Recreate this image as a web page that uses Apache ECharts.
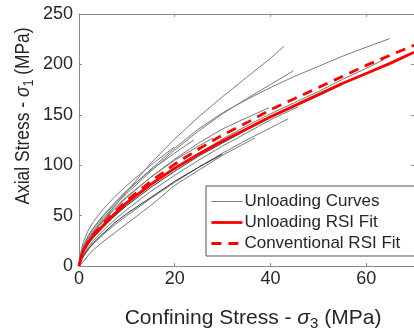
<!DOCTYPE html>
<html>
<head>
<meta charset="utf-8">
<script src="https://cdn.jsdelivr.net/npm/echarts@6/dist/echarts.min.js"></script>
<style>
html,body{margin:0;padding:0;background:#fff;}
#chart{width:414px;height:331px;}
</style>
</head>
<body>
<div id="chart"></div>
<script>
// ---- data (σ3, σ1) in MPa ----
const xTicks = [0, 20, 40, 60];
const yTicks = [0, 50, 100, 150, 200, 250];
const xMax = 70;

const unloadCurve01 = [[0,0],[0.5,10],[1,16],[2,25],[3,32],[5,45],[7.5,60],[10,74],[15,102],[20,126],[25,148],[30,168],[35,187],[40,206],[42.8,218]];
const unloadCurve02 = [[0,0],[0.5,17],[1,25],[2,36],[3,44],[5,56],[7.5,69],[10,80],[15,100],[19.9,118]];
const unloadCurve03 = [[0,0],[0.5,13],[1,20],[2,30],[3,37],[5,49],[7.5,62],[10,74],[15,96],[20,117],[25,136],[30,152],[35,165],[40,177],[45,188],[50,198],[55,208],[60,217],[64.9,225.5]];
const unloadCurve04 = [[0,0],[0.5,12],[1,19],[2,28],[3,35],[5,47],[7.5,60],[10,72],[15,94],[20,115],[25,134],[30,151],[35,166],[40,180],[44.8,193.7]];
const unloadCurve05 = [[0,0],[0.5,9],[1,14],[2,22],[3,28],[5,38],[7.5,50],[10,61],[15,80],[20,97],[25,112],[30,126],[35,139],[40,151],[45,162],[50,173],[55,185],[60,196],[63.8,205]];
const unloadCurve06 = [[0,0],[0.5,11],[1,17],[2,26],[3,33],[5,44],[7.5,57],[10,68],[15,88],[20,106],[25,122],[30,136],[35,147],[39.7,157]];
const unloadCurve07 = [[0,0],[0.5,8],[1,12],[2,19],[3,25],[5,35],[7.5,46],[10,56],[15,74],[20,90],[25,105],[30,119],[35,132],[40,145],[45.8,158]];
const unloadCurve08 = [[0,0],[0.5,10],[1,15],[2,23],[3,29],[5,39],[7.5,50],[10,60],[15,78],[20,94],[25,109],[30,122],[35,135],[40,147],[45,158],[50,169],[55,180]];
const unloadCurve09 = [[0,0],[1,5],[2,11],[3,16],[5,24],[7.5,33],[10,42],[15,60],[20,80],[25,95],[30,110],[36.8,127]];
const unloadCurve10 = [[0,0],[0.5,7],[1,11],[2,17],[3,22],[5,31],[7.5,41],[10,50],[15,67],[20,83],[25,98],[30,112],[35,125],[40,137],[43.7,146]];
const unloadCurve11 = [[0,0],[0.5,6],[1,10],[2,17],[3,23],[5,32],[7.5,43],[10,52],[15,68],[20,84],[25,98],[30,111]];
const unloadCurve12 = [[0,0],[0.5,14],[1,21],[2,31],[3,38],[5,50],[7.5,63],[10,75],[15,95],[20,112],[24,125]];
const unloadCurve13 = [[0,0],[0.5,12],[1,18],[2,27],[3,34],[5,45],[7.5,58],[10,69],[15,88],[20,105],[25,119],[28,127]];

const grayCurves = [unloadCurve01, unloadCurve02, unloadCurve03, unloadCurve04, unloadCurve05, unloadCurve06, unloadCurve07,
                    unloadCurve09, unloadCurve10, unloadCurve12, unloadCurve13];
const darkCurves = [unloadCurve08, unloadCurve11];

const fitSigma3 = [0,0.5,1,2,3,5,7.5,10,15,20,25,30,35,40,45,50,55,60,65,70];
const unloadingFitSigma1 = [0,10,16,24,30,40,52,63,81,97,111,124,136,148,159,170,181,191,201,212];
const conventionalFitSigma1 = [0,10,16,25,31,42,54,65,84,101,116,130,142,155,166,177,188,199,209,219];

const legendNames = ['Unloading Curves', 'Unloading RSI Fit', 'Conventional RSI Fit'];

// ---- chart ----
const FONT = '"Liberation Sans", Arial, Helvetica, sans-serif';
const AX = '#8a8a8a';
const TXT = '#262626';
const HIDDEN_SYMBOL = {color: 'rgba(0,0,0,0)', borderColor: 'rgba(0,0,0,0)', borderWidth: 0};
const chart = echarts.init(document.getElementById('chart'), null, {renderer: 'canvas'});

const series = [];
grayCurves.forEach(c => series.push({
  name: legendNames[0], type: 'line', data: c, showSymbol: false, symbol: 'circle',
  lineStyle: {color: '#7a7a7a', width: 1}, itemStyle: HIDDEN_SYMBOL, z: 2, silent: true
}));
darkCurves.forEach(c => series.push({
  name: legendNames[0], type: 'line', data: c, showSymbol: false, symbol: 'circle',
  lineStyle: {color: '#333333', width: 1}, itemStyle: HIDDEN_SYMBOL, z: 2, silent: true
}));
series.push({
  name: legendNames[1], type: 'line', data: fitSigma3.map((x, i) => [x, unloadingFitSigma1[i]]),
  showSymbol: false, symbol: 'circle', lineStyle: {color: '#ff0000', width: 2.8}, itemStyle: HIDDEN_SYMBOL, z: 3
});
series.push({
  name: legendNames[2], type: 'line', data: fitSigma3.map((x, i) => [x, conventionalFitSigma1[i]]),
  showSymbol: false, symbol: 'circle', lineStyle: {color: '#ff0000', width: 2.8, type: [10, 7]}, itemStyle: HIDDEN_SYMBOL, z: 4
});

const axisCommon = {
  axisLine: {show: true, onZero: false, lineStyle: {color: AX, width: 1}},
  axisTick: {show: true, inside: true, length: 3, lineStyle: {color: AX}},
  splitLine: {show: false}
};

const option = {
  animation: false,
  backgroundColor: '#fff',
  grid: {left: 79, top: 14, width: 338, height: 252, containLabel: false},
  xAxis: [
    Object.assign({type: 'value', min: xTicks[0], max: xMax, interval: xTicks[1] - xTicks[0], position: 'bottom',
      axisLabel: {show: true, margin: 4, fontSize: 18, color: TXT, fontFamily: FONT, showMaxLabel: false}}, axisCommon),
    Object.assign({type: 'value', min: xTicks[0], max: xMax, interval: xTicks[1] - xTicks[0], position: 'top',
      axisLabel: {show: false}}, axisCommon)
  ],
  yAxis: [
    Object.assign({type: 'value', min: yTicks[0], max: yTicks[yTicks.length - 1], interval: yTicks[1] - yTicks[0], position: 'left',
      axisLabel: {show: true, margin: 6, fontSize: 18, color: TXT, fontFamily: FONT}}, axisCommon),
    Object.assign({type: 'value', min: yTicks[0], max: yTicks[yTicks.length - 1], interval: yTicks[1] - yTicks[0], position: 'right',
      axisLabel: {show: false}}, axisCommon)
  ],
  legend: {
    data: legendNames, orient: 'vertical', left: 206, top: 186,
    padding: [7, 17, 4, 4], itemWidth: 31, itemHeight: 14, itemGap: 4,
    lineStyle: {width: 'inherit'},
    backgroundColor: '#fff', borderColor: '#555', borderWidth: 1, borderRadius: 0,
    textStyle: {fontSize: 17, color: TXT, fontFamily: FONT, padding: [0, 0, 0, -3]},
    selectedMode: false
  },
  graphic: [
    {
      type: 'text', x: 253, y: 318, silent: true,
      style: {
        text: '{n|Confining Stress - }{s|σ}{sub|3}{n| (MPa)}', align: 'center', verticalAlign: 'middle',
        rich: {
          n: {fontSize: 21, fontFamily: FONT, fill: TXT, color: TXT},
          s: {fontSize: 21, fontFamily: FONT, fontStyle: 'italic', fill: TXT, color: TXT},
          sub: {fontSize: 15, fontFamily: FONT, fill: TXT, color: TXT, padding: [12, 0, 0, 0]}
        }
      }
    },
    {
      type: 'text', x: 23, y: 116, rotation: Math.PI / 2, scaleX: 0.83, silent: true,
      style: {
        text: '{n|Axial Stress - }{s|σ}{sub|1}{n| (MPa)}', align: 'center', verticalAlign: 'middle',
        rich: {
          n: {fontSize: 21, fontFamily: FONT, fill: TXT, color: TXT},
          s: {fontSize: 21, fontFamily: FONT, fontStyle: 'italic', fill: TXT, color: TXT},
          sub: {fontSize: 15, fontFamily: FONT, fill: TXT, color: TXT, padding: [12, 0, 0, 0]}
        }
      }
    }
  ],
  series: series
};
chart.setOption(option);
</script>
</body>
</html>
